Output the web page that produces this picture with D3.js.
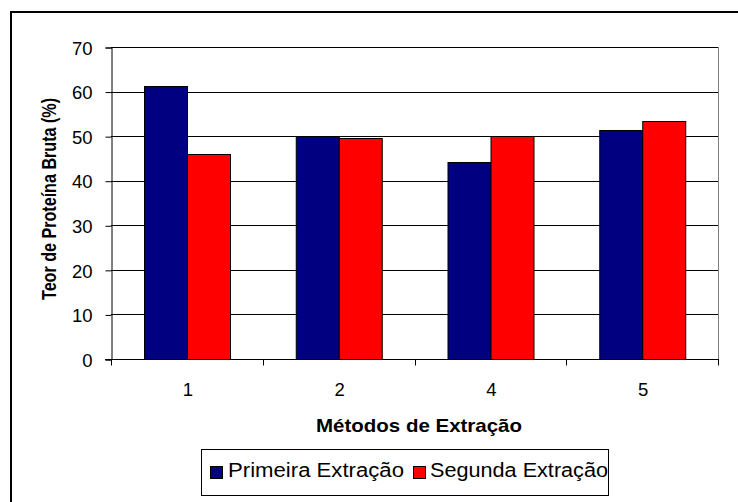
<!DOCTYPE html>
<html>
<head>
<meta charset="utf-8">
<script src="https://cdn.jsdelivr.net/npm/d3@7"></script>
<style>
  html, body { margin: 0; padding: 0; background: #fff; }
  svg { display: block; }
  svg text { font-family: "Liberation Sans", Arial, sans-serif; fill: #000; }
</style>
</head>
<body>
<svg id="chart" width="738" height="502"></svg>
<script>
// Protein content by extraction method
const methods = ["1", "2", "4", "5"];
const seriesNames = ["Primeira Extração", "Segunda Extração"];
const primeira = [61.2, 50.0, 44.2, 51.3];
const segunda = [46.0, 49.5, 50.0, 53.5];
const yTicks = [0, 10, 20, 30, 40, 50, 60, 70];
const colors = ["#000080", "#FF0000"];

const svg = d3.select("#chart");
const W = 738, H = 502;
const plot = { left: 111, top: 47, right: 718, bottom: 359 };

// outer chart frame (runs past the right and bottom edges)
svg.append("rect")
  .attr("x", 11).attr("y", 12)
  .attr("width", W + 20).attr("height", H + 20)
  .attr("fill", "#fff").attr("stroke", "#000").attr("stroke-width", 2);

const x = d3.scaleBand().domain(methods).range([plot.left, plot.right]);
const y = d3.scaleLinear().domain([0, 70]).range([plot.bottom, plot.top]);

// two bars per category, gap width 150% of a bar
const barW = x.bandwidth() / 3.5;
const groupOffset = barW * 0.75;

// gridlines
svg.append("g")
  .selectAll("line")
  .data(yTicks.filter(d => d > 0))
  .join("line")
  .attr("x1", plot.left).attr("x2", plot.right)
  .attr("y1", d => Math.round(y(d)) + 0.5).attr("y2", d => Math.round(y(d)) + 0.5)
  .attr("stroke", "#000").attr("stroke-width", 1);

// plot area right edge
svg.append("line")
  .attr("x1", plot.right + 0.5).attr("x2", plot.right + 0.5)
  .attr("y1", y(70)).attr("y2", plot.bottom)
  .attr("stroke", "#808080").attr("stroke-width", 1);

// bars
const data = methods.map((m, i) => ({ m, vals: [primeira[i], segunda[i]] }));
const groups = svg.append("g").selectAll("g")
  .data(data).join("g")
  .attr("transform", d => `translate(${x(d.m)},0)`);

groups.selectAll("rect")
  .data(d => d.vals.map((v, k) => ({ v, k })))
  .join("rect")
  .attr("x", d => Math.round(groupOffset + d.k * barW) + 0.5)
  .attr("y", d => Math.round(y(d.v)) + 0.5)
  .attr("width", Math.round(barW))
  .attr("height", d => Math.round(y(0)) - Math.round(y(d.v)))
  .attr("fill", d => colors[d.k])
  .attr("stroke", "#000").attr("stroke-width", 1);

// y axis
const yAxis = svg.append("g")
  .attr("transform", `translate(${plot.left + 0.5},0.5)`)
  .call(d3.axisLeft(y).tickValues(yTicks).tickSize(6).tickPadding(13).tickFormat(d3.format("d")));
yAxis.attr("font-family", null).attr("font-size", null);
yAxis.select(".domain").attr("stroke", "#000");
yAxis.selectAll(".tick line").attr("stroke", "#000");
yAxis.selectAll("text").attr("font-size", 18.5).attr("fill", "#000").attr("dy", "0.36em");

// x axis: ticks at category boundaries
const xAxisG = svg.append("g").attr("transform", `translate(0,${Math.round(plot.bottom) + 0.5})`);
xAxisG.append("line")
  .attr("x1", plot.left - 6).attr("x2", plot.right + 1)
  .attr("stroke", "#000");
const bounds = methods.map(m => x(m)).concat([plot.right]);
xAxisG.selectAll("line.tk")
  .data(bounds).join("line").attr("class", "tk")
  .attr("x1", d => Math.round(d) + 0.5).attr("x2", d => Math.round(d) + 0.5)
  .attr("y1", 0).attr("y2", 6)
  .attr("stroke", "#000");
xAxisG.selectAll("text")
  .data(methods).join("text")
  .attr("x", d => x(d) + x.bandwidth() / 2 + 1)
  .attr("y", 36.5)
  .attr("text-anchor", "middle")
  .attr("font-size", 18.5)
  .text(d => d);

// axis titles
svg.append("text")
  .attr("x", 419).attr("y", 432)
  .attr("text-anchor", "middle")
  .attr("font-size", 19).attr("font-weight", "bold")
  .attr("textLength", 206).attr("lengthAdjust", "spacingAndGlyphs")
  .text("Métodos de Extração");

svg.append("text")
  .attr("transform", `translate(56,199) rotate(-90)`)
  .attr("text-anchor", "middle")
  .attr("font-size", 20).attr("font-weight", "bold")
  .attr("textLength", 202).attr("lengthAdjust", "spacingAndGlyphs")
  .text("Teor de Proteína Bruta (%)");

// legend
const legend = svg.append("g");
legend.append("rect")
  .attr("x", 201.5).attr("y", 449.5).attr("width", 407).attr("height", 46)
  .attr("fill", "#fff").attr("stroke", "#000").attr("stroke-width", 1);
const swatchX = [210, 413];
const textX = [228, 430];
const textW = [176, 178];
seriesNames.forEach((name, k) => {
  legend.append("rect")
    .attr("x", swatchX[k] + 0.5).attr("y", 466.5).attr("width", 12).attr("height", 12)
    .attr("fill", colors[k]).attr("stroke", "#000");
  legend.append("text")
    .attr("x", textX[k]).attr("y", 477)
    .attr("font-size", 20)
    .attr("textLength", textW[k]).attr("lengthAdjust", "spacingAndGlyphs")
    .text(name);
});
</script>
</body>
</html>
